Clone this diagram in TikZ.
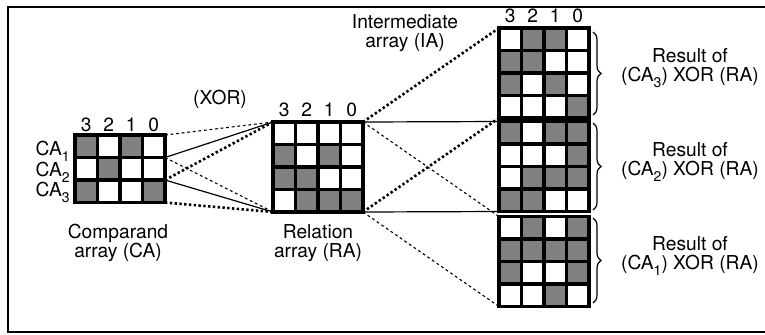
\documentclass[tikz,border=0pt]{standalone}
\usepackage{fontspec}
\setmainfont{TeX Gyre Heros}
\usetikzlibrary{decorations.pathreplacing}
\definecolor{cellgray}{gray}{0.5}
\newcommand{\lowidx}[1]{\raisebox{-0.6ex}{\fontsize{7}{7}\selectfont #1}}
% array of cells, rows of 0/1 from the top
\newcommand{\cellarray}[3]{%
  \foreach \row [count=\j from 0] in {#3} {
    \foreach \v [count=\i from 0] in \row {
      \ifnum\v=1 \fill[cellgray] (#1+\i*22.5,#2+\j*22.5) rectangle ++(22.5,22.5); \fi
      \draw[cellline] (#1+\i*22.5,#2+\j*22.5) rectangle ++(22.5,22.5);
    }
  }}
\tikzset{
  cellline/.style={line width=1.6pt},
  txt/.style={font=\fontsize{9.6}{9.5}\selectfont, inner sep=0pt, align=center},
  solidline/.style={line width=0.6pt},
  thindots/.style={line width=0.55pt, dash pattern=on 1.4pt off 1.4pt},
  thickdots/.style={line width=1.3pt, dash pattern=on 1.2pt off 1.2pt},
  resbrace/.style={decorate, decoration={brace, amplitude=4pt}, line width=0.6pt}
}

\begin{document}
\begin{tikzpicture}[x=0.5pt,y=-0.5pt]
\useasboundingbox (0,0) rectangle (765,334);
\draw[line width=1.3pt] (770,7) -- (8,7) -- (8,332) -- (770,332);

% corners
\coordinate (ca0) at (165,135);
\coordinate (ca1) at (165,157.5);
\coordinate (ca2) at (165,180);
\coordinate (ca3) at (165,202.5);
\coordinate (ratl) at (273,122);
\coordinate (rabl) at (273,212);
\coordinate (ratr) at (363,122);
\coordinate (rabr) at (363,212);
\coordinate (iaatl) at (499,28);
\coordinate (iaabl) at (499,118);
\coordinate (iabtl) at (499,121.5);
\coordinate (iabbl) at (499,211.5);
\coordinate (iactl) at (499,216.5);
\coordinate (iacbl) at (499,306.5);

% CA -> RA
\draw[thindots] (ca0) -- (ratl);
\draw[thindots] (ca1) -- (rabl);
\draw[solidline] (ca1) -- (ratl);
\draw[solidline] (ca2) -- (rabl);
\draw[thickdots] (ca2) -- (ratl);
\draw[thickdots] (ca3) -- (rabl);
% RA -> IA
\draw[thickdots] (ratr) -- (iaatl);
\draw[thickdots] (rabr) -- (iaabl);
\draw[solidline] (ratr) -- (iabtl);
\draw[solidline] (rabr) -- (iabbl);
\draw[thindots] (ratr) -- (iactl);
\draw[thindots] (rabr) -- (iacbl);

% CA
\cellarray{75}{135}{{1,0,1,0},{0,1,0,0},{1,0,0,1}}
% RA
\cellarray{273}{122}{{0,0,0,0},{1,0,1,0},{1,1,0,0},{0,1,1,1}}
% IA
\cellarray{499}{28}{{0,1,1,0},{1,1,0,0},{1,0,1,0},{0,0,0,1}}
\cellarray{499}{121.5}{{1,0,1,1},{0,0,0,1},{0,1,1,1},{1,1,0,0}}
\cellarray{499}{216.5}{{0,1,0,1},{1,1,1,1},{1,0,0,1},{0,0,1,0}}

% bit numbers
\foreach \d [count=\i from 0] in {3,2,1,0} {
  \node[txt] (cabit\d) at (86.25+\i*22.5,125) {\d};
  \node[txt] (rabit\d) at (284.25+\i*22.5,110) {\d};
  \node[txt] (iabit\d) at (510.25+\i*22.5,16) {\d};
}

\node[txt, anchor=base east] (cal1) at (70,155) {CA\lowidx{1}};
\node[txt, anchor=base east] (cal2) at (70,176) {CA\lowidx{2}};
\node[txt, anchor=base east] (cal3) at (70,196) {CA\lowidx{3}};

\node[txt] (xorlbl) at (220,99) {(XOR)};
\node[txt] (calbl) at (118,243) {Comparand\\array (CA)};
\node[txt] (ralbl) at (318,243) {Relation\\array (RA)};
\node[txt] (ialbl) at (405,33) {Intermediate\\array (IA)};

% results
\draw[resbrace] (593,32) -- (593,115);
\draw[resbrace] (593,123) -- (593,210);
\draw[resbrace] (593,218) -- (593,303);
\node[txt] (res3) at (690,68) {Result of\\(CA\lowidx{3}) XOR (RA)};
\node[txt] (res2) at (690,162) {Result of\\(CA\lowidx{2}) XOR (RA)};
\node[txt] (res1) at (690,256) {Result of\\(CA\lowidx{1}) XOR (RA)};
\end{tikzpicture}
\end{document}
